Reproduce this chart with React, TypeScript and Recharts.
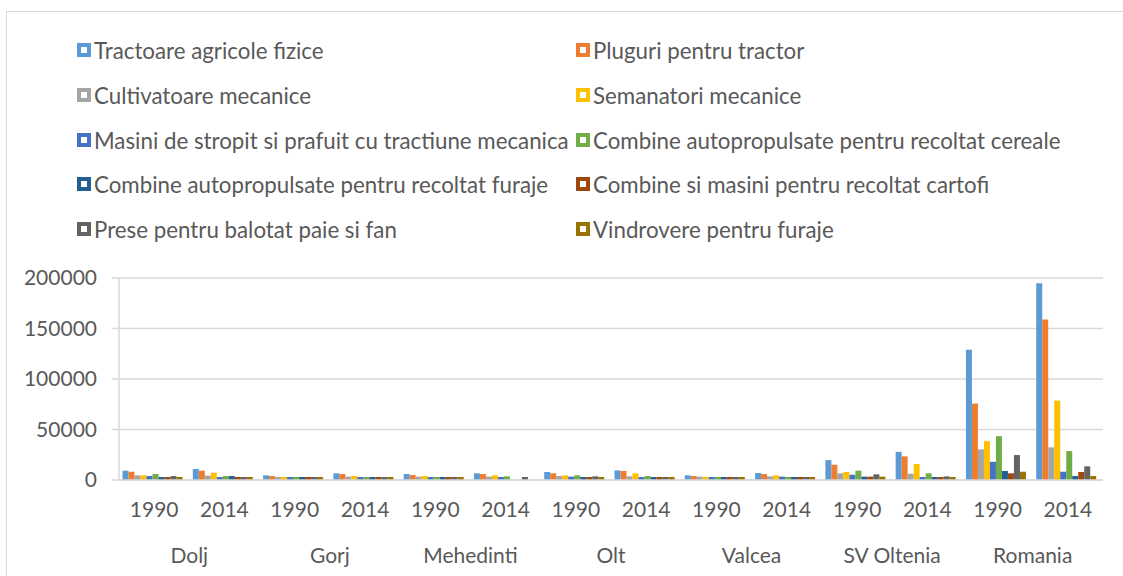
import React from "react";
import { BarChart, Bar, XAxis, YAxis, CartesianGrid } from "recharts";

const regions = ["Dolj", "Dolj", "Gorj", "Gorj", "Mehedinti", "Mehedinti", "Olt", "Olt", "Valcea", "Valcea", "SV Oltenia", "SV Oltenia", "Romania", "Romania"];
const years = ["1990", "2014", "1990", "2014", "1990", "2014", "1990", "2014", "1990", "2014", "1990", "2014", "1990", "2014"];
const yTicks = [0, 50000, 100000, 150000, 200000];

const seriesNames = [
  "Tractoare agricole fizice",
  "Pluguri pentru tractor",
  "Cultivatoare mecanice",
  "Semanatori mecanice",
  "Masini de stropit si prafuit cu tractiune mecanica",
  "Combine autopropulsate pentru recoltat cereale",
  "Combine autopropulsate pentru recoltat furaje",
  "Combine si masini pentru recoltat cartofi",
  "Prese pentru balotat paie si fan",
  "Vindrovere pentru furaje",
];
const seriesColors = ["#5B9BD5", "#ED7D31", "#A5A5A5", "#FFC000", "#4472C4", "#70AD47", "#255E91", "#9E480E", "#636363", "#997300"];

const tractoare = [9200, 10900, 4600, 6600, 5900, 6600, 7900, 9500, 4600, 6900, 19700, 27900, 129000, 194700];
const pluguri = [8200, 9200, 3900, 5900, 4900, 5900, 6600, 8900, 3900, 5900, 15100, 23400, 75700, 158900];
const cultivatoare = [4600, 4300, 3000, 3300, 3300, 3300, 3900, 3600, 3300, 3600, 6600, 6200, 30300, 32300];
const semanatori = [4600, 7200, 3000, 3900, 3900, 4600, 4600, 6600, 3000, 4600, 7900, 15800, 38500, 78600];
const stropit = [3900, 3000, 3000, 3000, 3000, 3000, 3300, 3000, 3000, 3300, 5200, 3000, 18000, 8200];
const cereale = [5900, 3900, 3000, 3000, 3000, 3600, 4600, 3900, 3000, 3000, 9200, 6600, 43400, 28600];
const furaje = [3000, 3900, 3000, 3000, 3000, 0, 3000, 3000, 3000, 3000, 3300, 3000, 8900, 3900];
const cartofi = [3000, 3000, 3000, 3000, 3000, 0, 3000, 3000, 3000, 3000, 3300, 3000, 6600, 7900];
const prese = [3900, 3000, 3000, 3000, 3000, 3000, 3600, 3000, 3000, 3000, 5600, 3600, 24700, 13500];
const vindrovere = [3000, 3000, 3000, 3000, 3000, 0, 3000, 3000, 3000, 3000, 3300, 3000, 8200, 3900];

const seriesValues = [tractoare, pluguri, cultivatoare, semanatori, stropit, cereale, furaje, cartofi, prese, vindrovere];

const data = years.map((y, i) => {
  const row: any = { key: i, year: y, region: regions[i] };
  seriesValues.forEach((vals, s) => {
    row["s" + s] = vals[i];
  });
  return row;
});

const FONT = "Lato, 'Open Sans', sans-serif";
const TEXT = "#595959";
const CHART_W = 1123;
const CHART_H = 576;
const Y_W = 119;
const M_RIGHT = 20;
const BAND = (CHART_W - Y_W - M_RIGHT) / years.length;

const XTick = (props: any) => {
  const { x, payload } = props;
  const idx = payload.index;
  return (
    <g>
      <text x={x} y={510} textAnchor="middle" dy="0.355em" fill={TEXT} fontSize={21} fontFamily={FONT}>
        {years[idx]}
      </text>
      {idx % 2 === 0 ? (
        <text x={x + BAND / 2} y={556} textAnchor="middle" dy="0.355em" fill={TEXT} fontSize={21} fontFamily={FONT}>
          {regions[idx]}
        </text>
      ) : null}
    </g>
  );
};

const legendRowsY = [50, 95, 140, 184, 229];

export default function App() {
  return (
    <div style={{ position: "fixed", left: 0, top: 0, width: CHART_W, height: CHART_H, background: "#fff", overflow: "hidden" }}>
      <div style={{ position: "absolute", left: 6, top: 11, width: 1300, height: 800, border: "1px solid #d9d9d9" }} />
      {seriesNames.map((name, i) => {
        const col = i % 2;
        const row = Math.floor(i / 2);
        const mx = col === 0 ? 77 : 576;
        const cy = legendRowsY[row];
        return (
          <div key={name} style={{ position: "absolute", left: mx, top: cy - 14, height: 28, display: "flex", alignItems: "center", fontFamily: FONT, fontSize: 22.3, color: TEXT, whiteSpace: "nowrap" }}>
            <div style={{ width: 14, height: 14, flexShrink: 0, boxSizing: "border-box", border: `4px solid ${seriesColors[i]}`, background: "#fff", marginRight: 3 }} />
            <span>{name}</span>
          </div>
        );
      })}
      <div style={{ position: "absolute", left: 0, top: 0 }}>
        <BarChart
          width={CHART_W}
          height={CHART_H}
          data={data}
          margin={{ top: 278, right: M_RIGHT, bottom: 0, left: 0 }}
          barCategoryGap="5%"
          barGap={0}
        >
          <CartesianGrid vertical={false} stroke="#d9d9d9" strokeWidth={1.5} />
          <XAxis
            dataKey="key"
            height={96}
            interval={0}
            tick={<XTick />}
            tickLine={false}
            axisLine={{ stroke: "#d9d9d9", strokeWidth: 1.5 }}
          />
          <YAxis
            width={Y_W}
            domain={[0, 200000]}
            ticks={yTicks}
            tickSize={7}
            tickMargin={15}
            tickLine={{ stroke: "#d9d9d9", strokeWidth: 1.5 }}
            axisLine={{ stroke: "#d9d9d9", strokeWidth: 1.5 }}
            tick={{ fill: TEXT, fontSize: 21, fontFamily: FONT }}
          />
          {seriesNames.map((name, i) => (
            <Bar key={name} dataKey={"s" + i} name={name} fill={seriesColors[i]} isAnimationActive={false} />
          ))}
        </BarChart>
      </div>
    </div>
  );
}
